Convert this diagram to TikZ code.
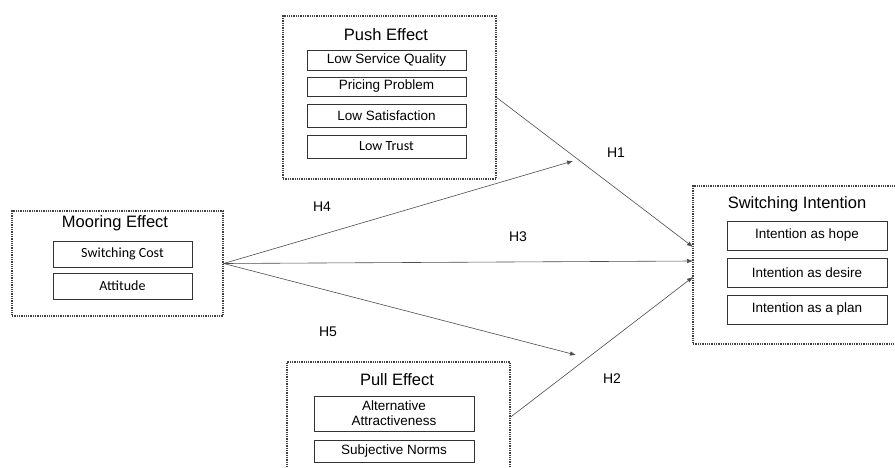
\documentclass[tikz,border=0pt]{standalone}
\usepackage{fontspec}
\setmainfont{Liberation Sans}
\newfontfamily\calib{Carlito}
\usetikzlibrary{arrows.meta}
\begin{document}
\begin{tikzpicture}[x=1pt,y=-1pt]
        % Styles
        \tikzstyle{group box}=[draw=black!75,densely dotted,line width=1.3pt,inner sep=0pt]
        \tikzstyle{group title}=[font=\fontsize{16.5}{18}\selectfont]
        \tikzstyle{item box}=[draw=black!80,line width=0.8pt,inner sep=0pt,align=center,font=\fontsize{13.5}{15}\selectfont]
        \tikzstyle{calibri item}=[item box,font=\calib\fontsize{14}{16}\selectfont]
        \tikzstyle{hyp line}=[draw=black!70,line width=0.6pt,-{Latex[length=6pt,width=4.5pt]}]
        \tikzstyle{hyp label}=[font=\fontsize{14}{16}\selectfont]
        %The graphic
        \useasboundingbox (0,0) rectangle (895,468);
        \clip (0,0) rectangle (895,468);
        %groups
        \node[group box,minimum width=213pt,minimum height=163pt] (push) at (389.5,97.5) {};
        \node[group box,minimum width=211pt,minimum height=105pt] (mooring) at (117.5,263.5) {};
        \node[group box,minimum width=204pt,minimum height=158pt] (switch) at (795,265) {};
        \node[group box,minimum width=223pt,minimum height=110pt] (pull) at (398.5,417) {};
        \node[group title] (push title) at (386,35) {Push Effect};
        \node[group title] (mooring title) at (115,223) {Mooring Effect};
        \node[group title] (switch title) at (797,204) {Switching Intention};
        \node[group title] (pull title) at (397,380) {Pull Effect};
        %push items
        \node[item box,minimum width=159pt,minimum height=20pt] (quality) at (386.5,60) {Low Service Quality};
        \node[item box,minimum width=159pt,minimum height=19pt] (pricing) at (386.5,86.5) {Pricing Problem};
        \node[item box,minimum width=159pt,minimum height=23pt] (satisfaction) at (386.5,115.5) {Low Satisfaction};
        \node[calibri item,minimum width=159pt,minimum height=23pt] (trust) at (386.5,146.5) {Low Trust};
        %mooring items
        \node[calibri item,minimum width=139pt,minimum height=26pt] (cost) at (122.5,254) {Switching Cost};
        \node[calibri item,minimum width=139pt,minimum height=26pt] (attitude) at (122.5,286) {Attitude};
        %intention items
        \node[item box,minimum width=160pt,minimum height=29pt] (hope) at (807,235.5) {Intention as hope};
        \node[item box,minimum width=160pt,minimum height=29pt] (desire) at (807,272.5) {Intention as desire};
        \node[item box,minimum width=160pt,minimum height=29pt] (plan) at (807,309.5) {Intention as a plan};
        %pull items
        \node[item box,minimum width=160pt,minimum height=35pt] (alternative) at (394,413.5) {Alternative\\Attractiveness};
        \node[item box,minimum width=160pt,minimum height=22pt] (norms) at (394,451) {Subjective Norms};
        %arrows
        \coordinate (h1 end) at (693,247);
        \coordinate (h3 end) at (693,261);
        \coordinate (h2 end) at (693,277);
        \coordinate (h4 end) at (573,161);
        \coordinate (h5 end) at (576,355);
        \draw[hyp line] (push.east) -- (h1 end);
        \draw[hyp line] (pull.east) -- (h2 end);
        \draw[hyp line] (mooring.east) -- (h3 end);
        \draw[hyp line] (mooring.east) -- (h4 end);
        \draw[hyp line] (mooring.east) -- (h5 end);
        \node[hyp label] (h1) at (616,153) {H1};
        \node[hyp label] (h2) at (612,379) {H2};
        \node[hyp label] (h3) at (518,237) {H3};
        \node[hyp label] (h4) at (322,207) {H4};
        \node[hyp label] (h5) at (328,332) {H5};
\end{tikzpicture}
\end{document}
